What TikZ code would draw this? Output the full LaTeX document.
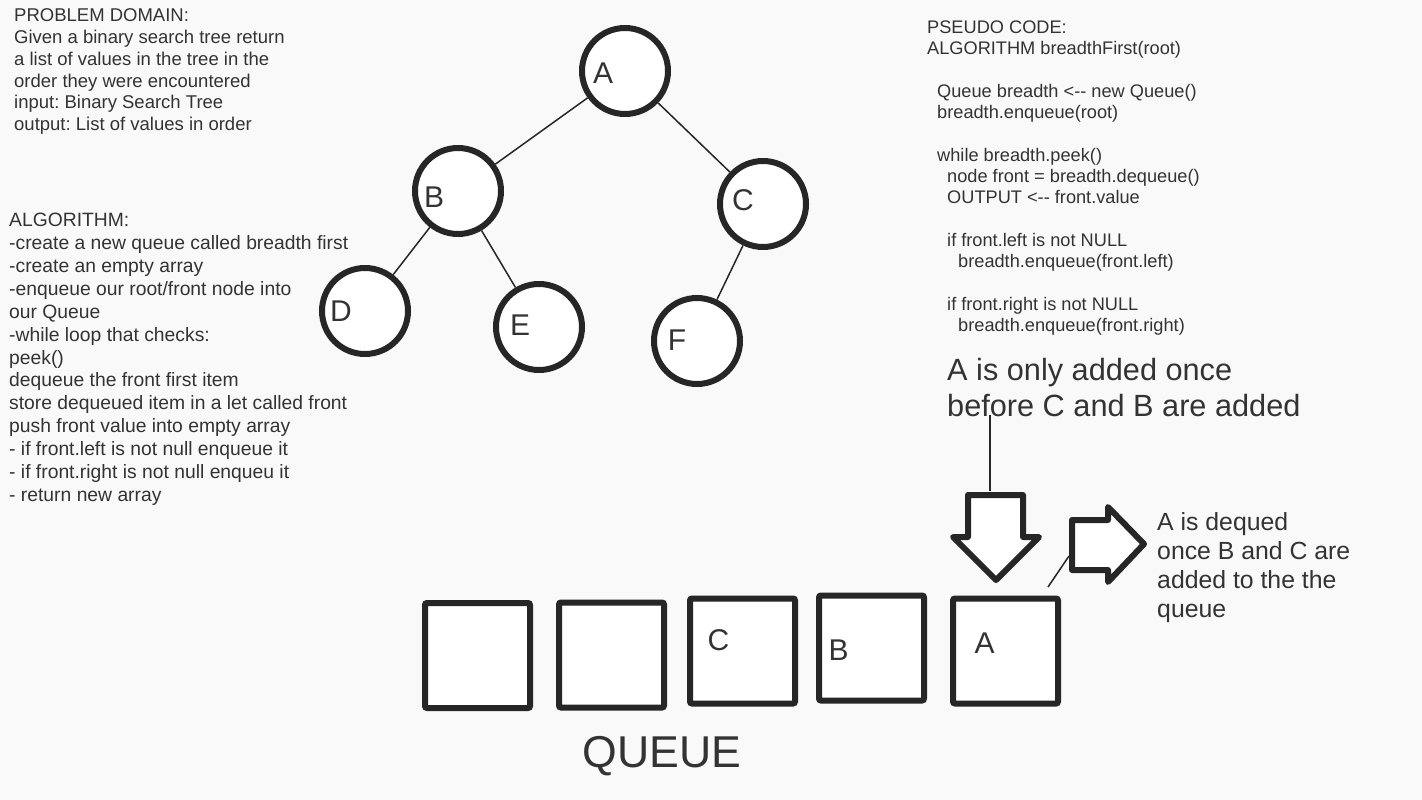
\documentclass[tikz,border=0pt]{standalone}
\usepackage{fontspec}
\setmainfont{Liberation Sans}
\frenchspacing
\definecolor{ink}{HTML}{262626}
\definecolor{txt}{HTML}{333333}
\definecolor{paper}{HTML}{F9F9F9}
\tikzset{
	basic/.style  = {text=txt, inner sep=0pt, align=left, anchor=north west},
	small/.style  = {basic, font=\fontsize{18.5}{21.8}\selectfont},
	vertex/.style = {draw=ink, line width=6pt, circle, fill=white,
		minimum size=86pt, inner sep=0pt},
	slot/.style   = {draw=ink, line width=6pt, rounded corners=2pt, fill=white,
		minimum size=105pt, inner sep=0pt},
	leaf/.style   = {text=txt, inner sep=0pt, font=\fontsize{30}{30}\selectfont},
	edge/.style   = {draw=ink, line width=1.5pt},
	block/.style  = {draw=ink, line width=6pt, fill=white, line join=round}
}

\begin{document}
\begin{tikzpicture}[x=1pt, y=-1pt]

\fill[paper] (0,0) rectangle (1422,800);
\useasboundingbox (0,0) rectangle (1422,800);

% notes on the left
\node[small] (domain) at (14,8.5) {PROBLEM DOMAIN:\\Given a binary search tree return\\a list of values in the tree in the\\order they were encountered\\input: Binary Search Tree\\output: List of values in order};
\node[small, font=\fontsize{19.3}{22.9}\selectfont] (algo) at (9,213) {ALGORITHM:\\-create a new queue called breadth first\\-create an empty array\\-enqueue our root/front node into\\our Queue\\-while loop that checks:\\peek()\\dequeue the front first item\\store dequeued item in a let called front\\push front value into empty array\\- if front.left is not null enqueue it\\- if front.right is not null enqueu it\\- return new array};

% pseudo code
\node[small, font=\fontsize{18.2}{21.3}\selectfont] (pseudo) at (927,20.5) {PSEUDO CODE:\\ALGORITHM breadthFirst(root)\\[21.3pt]
\hspace*{10pt}Queue breadth <-{}- new Queue()\\\hspace*{10pt}breadth.enqueue(root)\\[21.3pt]
\hspace*{10pt}while breadth.peek()\\\hspace*{20pt}node front = breadth.dequeue()\\\hspace*{20pt}OUTPUT <-{}- front.value\\[21.3pt]
\hspace*{20pt}if front.left is not NULL\\\hspace*{31pt}breadth.enqueue(front.left)\\[21.3pt]
\hspace*{20pt}if front.right is not NULL\\\hspace*{31pt}breadth.enqueue(front.right)};

% the tree
\node[vertex, label={[leaf, xshift=-22pt, yshift=-2pt]center:A}] (a) at (625,71) {};
\node[vertex, label={[leaf, xshift=-24pt, yshift=-6pt]center:B}] (b) at (458,191) {};
\node[vertex, label={[leaf, xshift=-20pt, yshift=4pt]center:C}] (c) at (763,204) {};
\node[vertex, label={[leaf, xshift=-24pt]center:D}] (d) at (365,311) {};
\node[vertex, label={[leaf, xshift=-19pt, yshift=2pt]center:E}] (e) at (539,327) {};
\node[vertex, label={[leaf, xshift=-20pt, yshift=1pt]center:F}] (f) at (697,341) {};
\draw[edge] (a) -- (b);
\draw[edge] (a) -- (c);
\draw[edge] (b) -- (d);
\draw[edge] (b) -- (e);
\draw[edge] (c) -- (f);

% the queue
\node[slot] (q1) at (477.5,655.5) {};
\node[slot] (q2) at (611.5,655) {};
\node[slot, label={[leaf, xshift=-24pt, yshift=11pt]center:C}] (q3) at (742.5,651) {};
\node[slot, label={[leaf, xshift=-33pt, yshift=-2pt]center:B}] (q4) at (871.5,648) {};
\node[slot, label={[leaf, xshift=-21pt, yshift=8pt]center:A}] (q5) at (1005.5,651) {};
\node[text=txt, inner sep=0pt, font=\fontsize{44.6}{44.6}\selectfont] (title) at (662,756) {QUEUE};

% notes on the right
\node[basic, font=\fontsize{30.7}{36}\selectfont] (added) at (947,358) {A is only added once\\before C and B are added};
\node[basic, font=\fontsize{24.8}{29}\selectfont] (dequed) at (1157,512) {A is dequed\\once B and C are\\added to the the\\queue};

% block arrows
\draw[block] (968,495) -- (1023,495) -- (1023,537) -- (1039,537) -- (996,580) -- (953,537) -- (968,537) -- cycle;
\draw[block] (1072,520) -- (1108,520) -- (1108,507) -- (1144,544) -- (1108,582) -- (1108,570) -- (1072,570) -- cycle;
\coordinate (tail) at (990,415);
\coordinate (drop) at (990,491);
\coordinate (out) at (1048,587);
\coordinate (push) at (1069,556);
\draw[edge] (tail) -- (drop);
\draw[edge] (out) -- (push);

\end{tikzpicture}
\end{document}
